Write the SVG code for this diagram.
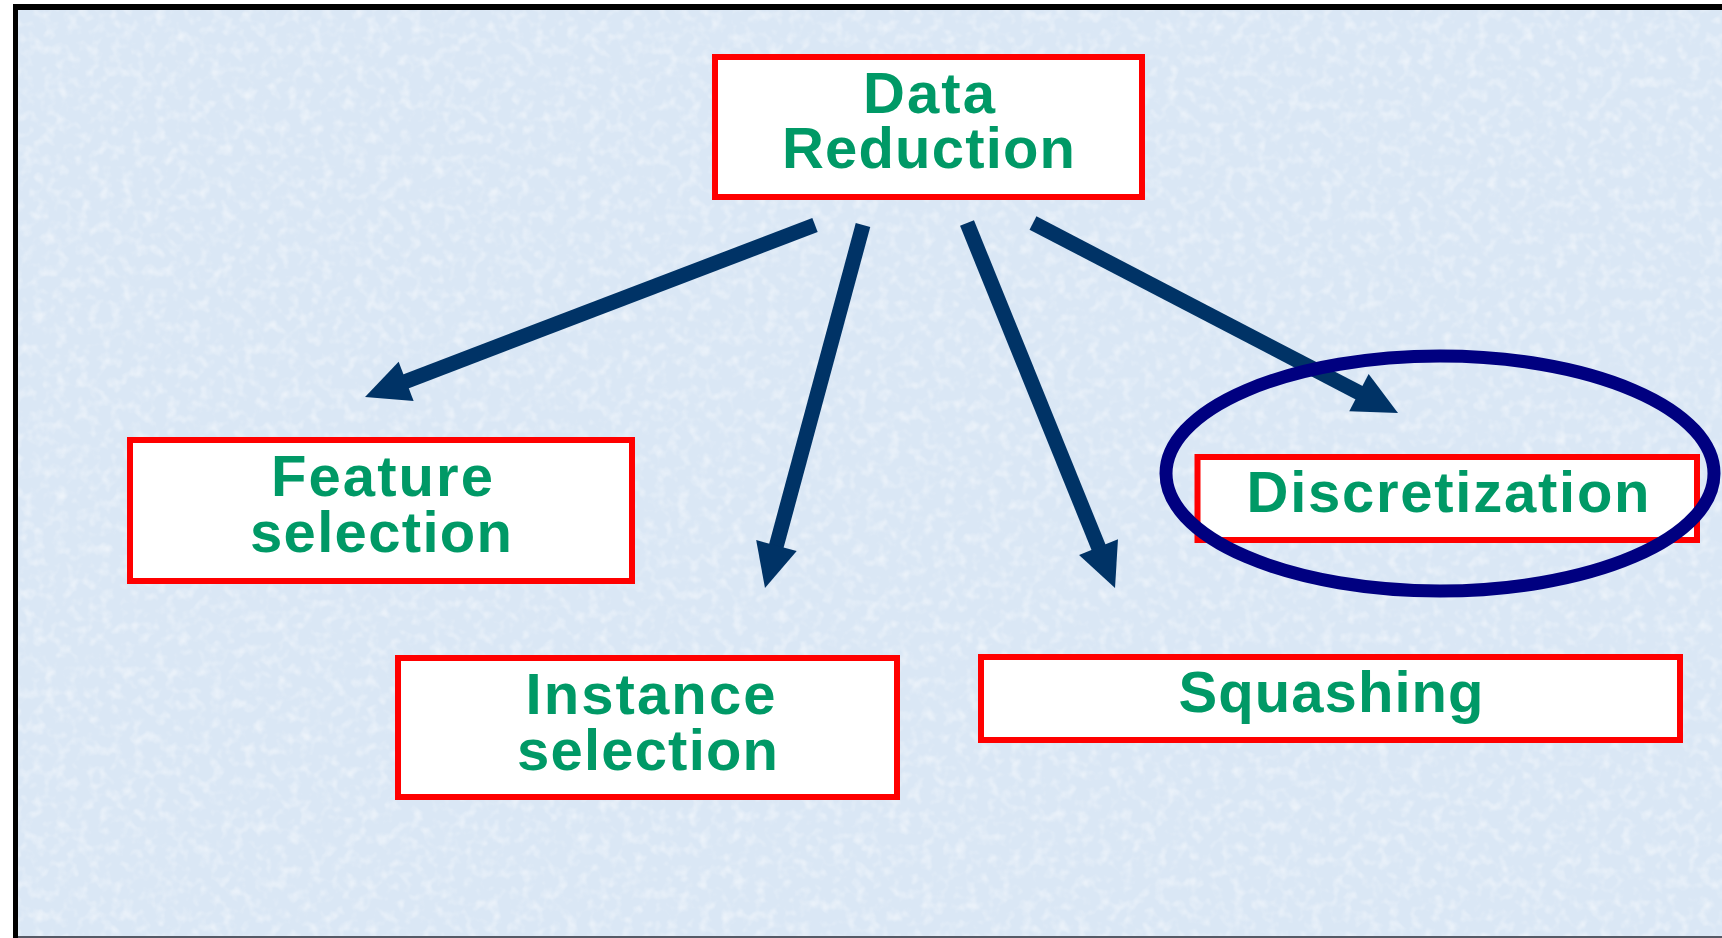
<svg xmlns="http://www.w3.org/2000/svg" width="1722" height="938" viewBox="0 0 1722 938">
  <style>
    .box rect { fill: #ffffff; stroke: #ff0000; stroke-width: 6; }
    .box text { font-family: "Liberation Sans", Arial, sans-serif; font-weight: bold; font-size: 58px; fill: #009966; text-anchor: middle; }
    .conn line { stroke: #003366; stroke-width: 15; fill: none; marker-end: url(#head); }
  </style>
  <defs>
    <marker id="head" markerUnits="userSpaceOnUse" markerWidth="44" markerHeight="42" refX="4" refY="21" orient="auto" overflow="visible">
      <path d="M0,0 L44,21 L0,42 z" fill="#003366"/>
    </marker>
    <filter id="tex" x="0" y="0" width="100%" height="100%">
      <feTurbulence type="fractalNoise" baseFrequency="0.09" numOctaves="2" seed="3" result="n"/>
      <feColorMatrix in="n" type="matrix" values="0 0 0 0 1  0 0 0 0 1  0 0 0 0 1  0 0 0 1.6 -0.75"/>
    </filter>
  </defs>

  <rect x="0" y="0" width="1722" height="938" fill="#ffffff"/>
  <rect x="18" y="10" width="1704" height="926" fill="#dae7f5"/>
  <rect x="18" y="10" width="1704" height="926" filter="url(#tex)" opacity="0.7"/>
  <rect x="13" y="4" width="1709" height="6" fill="#000000"/>
  <rect x="13" y="4" width="5" height="934" fill="#000000"/>
  <rect x="18" y="936" width="1704" height="2" fill="#555a66"/>

  <g id="connectors" class="conn">
    <line x1="815" y1="225" x2="402.4" y2="382.7"/>
    <line x1="863" y1="225" x2="775.4" y2="549.4"/>
    <line x1="967" y1="223" x2="1100" y2="550.9"/>
    <line x1="1033" y1="223" x2="1362.5" y2="394.5"/>
  </g>

  <g id="data-reduction" class="box">
    <rect x="715" y="57" width="427" height="140"/>
    <text><tspan x="929" y="113" textLength="132" lengthAdjust="spacing">Data</tspan><tspan x="928.5" y="168" textLength="293" lengthAdjust="spacing">Reduction</tspan></text>
  </g>

  <g id="feature-selection" class="box">
    <rect x="130" y="440" width="502" height="141"/>
    <text><tspan x="382" y="496" textLength="222" lengthAdjust="spacing">Feature</tspan><tspan x="381" y="552" textLength="262" lengthAdjust="spacing">selection</tspan></text>
  </g>

  <g id="instance-selection" class="box">
    <rect x="398" y="658" width="499" height="139"/>
    <text><tspan x="650.5" y="714" textLength="250" lengthAdjust="spacing">Instance</tspan><tspan x="647.5" y="770" textLength="261" lengthAdjust="spacing">selection</tspan></text>
  </g>

  <g id="squashing" class="box">
    <rect x="981" y="657" width="699" height="83"/>
    <text x="1331" y="712" textLength="305" lengthAdjust="spacing">Squashing</text>
  </g>

  <g id="discretization" class="box">
    <rect x="1197.5" y="457" width="499.5" height="83"/>
    <text x="1448" y="512" textLength="403" lengthAdjust="spacing">Discretization</text>
  </g>

  <g id="highlight">
    <ellipse cx="1440" cy="473.5" rx="274" ry="117.5" fill="none" stroke="#000080" stroke-width="13"/>
  </g>
</svg>
